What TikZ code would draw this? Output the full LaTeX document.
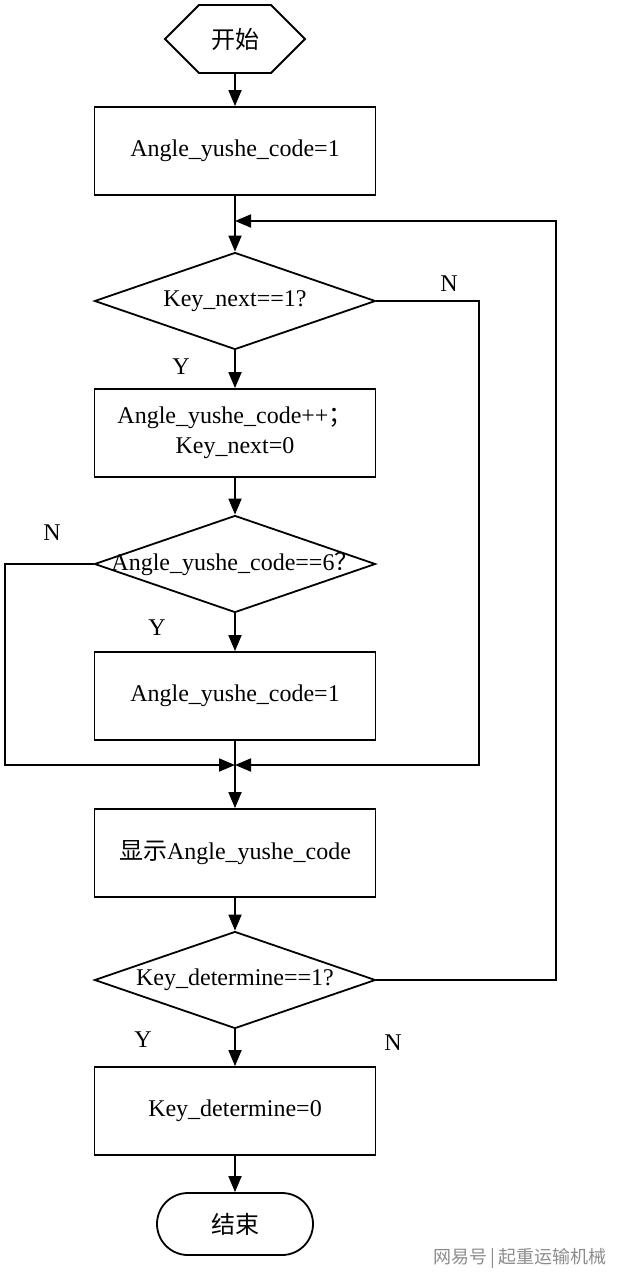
\documentclass[tikz,border=0pt]{standalone}
\usepackage{fontspec}
\setmainfont{Liberation Serif}
\newfontfamily\cjk{Noto Sans CJK SC}
\usetikzlibrary{shapes.geometric,shapes.symbols,arrows.meta}

\begin{document}
\begin{tikzpicture}[x=0.5pt, y=-0.5pt, line width=0.9pt,
        font=\fontsize{12}{15}\selectfont,
        box/.style={rectangle, draw, minimum width=140.5pt, minimum height=44pt, align=center},
        decision/.style={diamond, draw, minimum width=140.5pt, minimum height=48.5pt, inner sep=0pt},
        arr/.style={-{Triangle[length=8pt, width=6.5pt]}}]
        \useasboundingbox (0, 0) rectangle (633, 1280);

        \node[signal, signal to=east and west, signal pointer angle=90, draw, minimum width=70pt, minimum height=34pt] (start) at (235, 39) {\cjk 开始};
        \node[box] (init) at (235, 151) {Angle\_yushe\_code=1};
        \node[decision, label=center:{Key\_next==1?}] (nextq) at (235, 301) {};
        \node[box] (incr) at (235, 433) {Angle\_yushe\_code++{\cjk ；}\\Key\_next=0};
        \node[decision, label=center:{Angle\_yushe\_code==6{\cjk ？}}] (sixq) at (235, 564) {};
        \node[box] (reset) at (235, 696) {Angle\_yushe\_code=1};
        \node[box] (show) at (235, 853) {{\cjk 显示}Angle\_yushe\_code};
        \node[decision, label=center:{Key\_determine==1?}] (detq) at (235, 980) {};
        \node[box] (clear) at (235, 1111) {Key\_determine=0};
        \node[rectangle, rounded corners=15.5pt, draw, minimum width=78pt, minimum height=31pt] (stop) at (235, 1224) {\cjk 结束};

        % Y / N labels
        \node (nextN) at (449, 284) {N};
        \node (nextY) at (181, 367) {Y};
        \node (sixN) at (52, 533) {N};
        \node (sixY) at (157, 628) {Y};
        \node (detY) at (143, 1040) {Y};
        \node (detN) at (393, 1043) {N};

        \node[text=black!45, font=\cjk\fontsize{9}{11}\selectfont] (wmark) at (520, 1258) {网易号\,|\,起重运输机械};

        \coordinate (join) at (235, 765);
        \coordinate (loopin) at (235, 221);
        \coordinate (rightA) at (479, 765);
        \coordinate (leftA) at (5, 765);
        \coordinate (loopR) at (556, 221);

        \draw[arr] (start) -- (init);
        \draw[arr] (init) -- (nextq);
        \draw[arr] (nextq) -- (incr);
        \draw[arr] (incr) -- (sixq);
        \draw[arr] (sixq) -- (reset);
        \draw (reset) -- (join);
        \draw[arr] (join) -- (show);
        \draw[arr] (show) -- (detq);
        \draw[arr] (detq) -- (clear);
        \draw[arr] (clear) -- (stop);
        \draw[arr] (nextq.east) -| (rightA) -- (join);
        \draw[arr] (sixq.west) -| (leftA) -- (join);
        \draw[arr] (detq.east) -| (loopR) -- (loopin);
    \end{tikzpicture}
\end{document}
